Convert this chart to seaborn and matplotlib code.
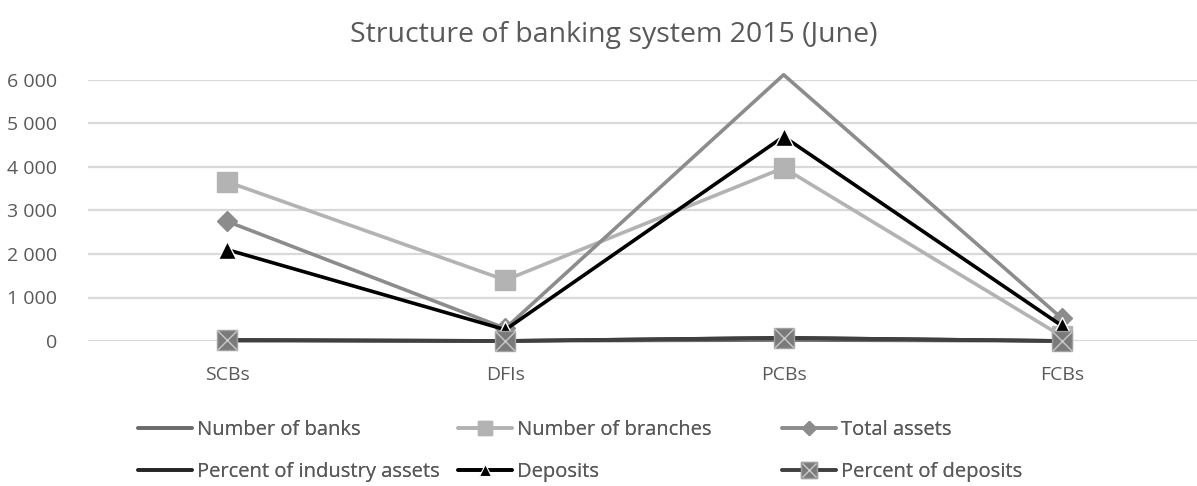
import matplotlib
matplotlib.use("Agg")
import matplotlib.pyplot as plt
import seaborn as sns
import pandas as pd
from matplotlib.lines import Line2D
from matplotlib.legend_handler import HandlerTuple
from matplotlib.ticker import FuncFormatter, MultipleLocator

categories = ["SCBs", "DFIs", "PCBs", "FCBs"]
number_of_banks = [5, 4, 22, 4]
number_of_branches = [3660, 1400, 3980, 110]
total_assets = [2750, 290, 6120, 520]
percent_industry_assets = [23, 2, 74, 1]
deposits = [2100, 260, 4700, 350]
percent_deposits = [24, 2, 72, 2]
series_names = ["Number of banks", "Number of branches", "Total assets",
                "Percent of industry assets", "Deposits", "Percent of deposits"]

sns.set_theme(style="white")
plt.rcParams['font.family'] = ['Open Sans', 'DejaVu Sans']

fig = plt.figure(figsize=(11.97, 4.86), dpi=100)
ax = fig.add_axes([88/1197, 1-341/486, (1201-88)/1197, (341-80)/486])

styles = {
    "Number of banks": dict(color="#6b6b6b", marker=None),
    "Number of branches": dict(color="#b3b3b3", marker="s", ms=14, mfc="#b3b3b3", mec="#b3b3b3"),
    "Total assets": dict(color="#8c8c8c", marker="D", ms=10, mfc="#8c8c8c", mec="#8c8c8c"),
    "Percent of industry assets": dict(color="#262626", marker=None),
    "Deposits": dict(color="#000000", marker="^", ms=13, mfc="#000000", mec="#ffffff", mew=1.0),
    "Percent of deposits": dict(color="#404040", marker=None),
}
values = [number_of_banks, number_of_branches, total_assets,
          percent_industry_assets, deposits, percent_deposits]

lw = 2.6
for name, vals in zip(series_names, values):
    df = pd.DataFrame({"cat": categories, "val": vals})
    st = styles[name]
    sns.lineplot(data=df, x="cat", y="val", ax=ax, sort=False, color=st["color"], linewidth=lw)
    line = ax.get_lines()[-1]
    line.set_clip_on(False)
    if st["marker"] is not None:
        line.set_marker(st["marker"])
        line.set_markersize(st["ms"])
        line.set_markerfacecolor(st["mfc"])
        line.set_markeredgecolor(st["mec"])
        line.set_markeredgewidth(st.get("mew", 1.0))
        if name == "Total assets":
            line.set_markevery([0, 1, 3])

# Percent of deposits markers: square with light cross
ax.plot(range(len(categories)), percent_deposits, linestyle="none", marker="s", ms=15,
        mfc="#7a7a7a", mec="#a0a0a0", mew=1.0, clip_on=False, zorder=5)
ax.plot(range(len(categories)), percent_deposits, linestyle="none", marker="x", ms=14,
        mec="#c8c8c8", mew=1.0, clip_on=False, zorder=6)

ax.set_xlim(-0.5, 3.5)
ax.set_ylim(0, 6000)
ax.yaxis.set_major_locator(MultipleLocator(1000))
ax.yaxis.set_major_formatter(FuncFormatter(lambda v, p: f"{int(v):,}".replace(",", " ")))
ax.grid(axis="y", color="#d9d9d9", linewidth=1.6)
ax.set_axisbelow(True)
for s in ax.spines.values():
    s.set_visible(False)
ax.set_xlabel("")
ax.set_ylabel("")
ax.tick_params(axis="both", length=0, labelsize=14, labelcolor="#595959")
ax.tick_params(axis="y", pad=22)
ax.tick_params(axis="x", pad=18)

fig.text(0.513, 0.928, "Structure of banking system 2015 (June)", ha="center", va="center",
         fontsize=20.5, color="#595959")

# Legend: three columns of equal width
h_banks = Line2D([], [], color="#6b6b6b", lw=lw)
h_branch = Line2D([], [], color="#b3b3b3", lw=lw, marker="s", ms=10, mfc="#b3b3b3", mec="#b3b3b3")
h_total = Line2D([], [], color="#8c8c8c", lw=lw, marker="D", ms=7, mfc="#8c8c8c", mec="#8c8c8c")
h_ind = Line2D([], [], color="#262626", lw=lw)
h_dep = Line2D([], [], color="#000000", lw=lw, marker="^", ms=9, mfc="#000000", mec="#ffffff", mew=0.8)
h_pd1 = Line2D([], [], color="#404040", lw=lw, marker="s", ms=11, mfc="#7a7a7a", mec="#a0a0a0")
h_pd2 = Line2D([], [], color="none", lw=0, marker="x", ms=10, mec="#c8c8c8", mew=1.0)

cols = [
    ([h_banks, h_ind], ["Number of banks", "Percent of industry assets"], 138),
    ([h_branch, h_dep], ["Number of branches", "Deposits"], 458),
    ([h_total, (h_pd1, h_pd2)], ["Total assets", "Percent of deposits"], 782),
]
for handles, labels, x0 in cols:
    leg = fig.legend(handles, labels, loc="upper left",
                     bbox_to_anchor=(x0/1197, 1-420/486), frameon=False,
                     fontsize=14.5, labelcolor="#595959", handlelength=2.7,
                     handletextpad=0.25, labelspacing=1.1, borderaxespad=0, borderpad=0,
                     handler_map={tuple: HandlerTuple(ndivide=1, pad=0)})
    fig.add_artist(leg)

fig.savefig("out.png", dpi=100)
